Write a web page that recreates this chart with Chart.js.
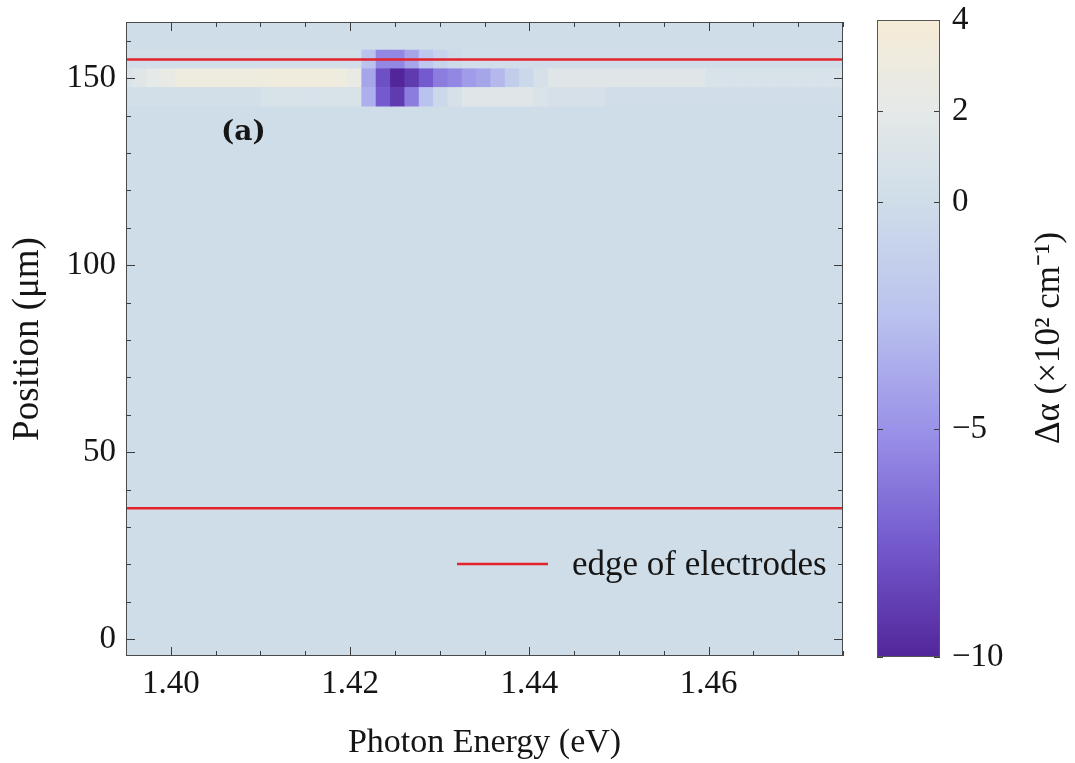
<!DOCTYPE html>
<html><head><meta charset="utf-8">
<script src="https://cdn.jsdelivr.net/npm/chart.js@4.4.0/dist/chart.umd.min.js"></script>
<style>
html,body{margin:0;padding:0;background:#fff;}
#wrap{position:relative;width:1075px;height:763px;overflow:hidden;}
canvas{position:absolute;left:0;top:0;}
</style></head><body>
<div id="wrap"><canvas id="main" width="1075" height="763"></canvas><canvas id="cbar" width="1075" height="763"></canvas></div>
<script>
// ---------------- data ----------------
// photon energy of each map column (eV)
const energies = [1.3949,1.3965,1.3981,1.3997,1.4013,1.4029,1.4045,1.4061,1.4077,1.4093,
  1.4109,1.4125,1.4141,1.4157,1.4173,1.4189,1.4205,1.4221,1.4237,1.4253,
  1.4269,1.4285,1.4301,1.4317,1.4333,1.4349,1.4365,1.4381,1.4397,1.4413,
  1.4429,1.4445,1.4461,1.4477,1.4493,1.4509,1.4525,1.4541,1.4557,1.4573,
  1.4589,1.4605,1.4621,1.4637,1.4653,1.4669,1.4685,1.4701,1.4717,1.4733,1.4749];
// rows that carry a signal (position, µm)
const rowPositions = [145, 150, 155];
const rowStep = 5;
// Δα (×10^2 cm^-1) per column for each row
const row145 = [0.3,0.3,0.3,0.3,0.3,0.3,0.3,0.3,0.3,0.3,
  0.8,0.8,0.8,0.8,0.8,0.8,0.8,-3.5,-7.5,-9.0,
  -6.0,-2.5,-0.5,0.5,1.5,1.5,1.5,1.5,1.5,1.0,
  0.5,0.5,0.5,0.5,0.2,0.2,0.2,0.2,0.2,0.2,
  0.2,0.2,0.2,0.2,0.2,0.2,0.2,0.2,0.2,0.2,0.2];
const row150 = [1.0,1.5,2.0,2.5,3.0,3.0,3.0,3.0,3.0,3.0,
  3.2,3.2,3.2,3.2,3.2,3.0,2.5,-4.0,-8.0,-10.0,
  -9.0,-7.5,-6.0,-5.5,-4.5,-4.0,-3.0,-1.5,-0.5,0.5,
  1.5,1.5,1.5,1.5,1.5,1.5,1.5,1.5,1.5,1.5,
  1.5,0.8,0.8,0.8,0.8,0.8,0.8,0.8,0.8,0.8,0.8];
const row155 = [0.3,0.3,0.3,0.3,0.3,0.3,0.3,0.3,0.3,0.3,
  0.3,0.3,0.3,0.3,0.3,0.3,0.3,-2.5,-5.5,-5.5,
  -4.0,-2.0,-1.0,-0.3,0.2,0.2,0.2,0.2,0.2,0.2,
  0.2,0.2,0.2,0.2,0.2,0.2,0.2,0.2,0.2,0.2,
  0.2,0.2,0.2,0.2,0.2,0.2,0.2,0.2,0.2,0.2,0.2];
const rowValues = [row145, row150, row155];
// remaining positions: Δα ≈ 0
const flatRange = [-7.5, 167.5];
const flatValue = 0;
// electrode edges (µm)
const electrodeEdges = [35, 155];
// axes
const xRange = [1.395, 1.475];
const yRange = [-4.5, 165];
const xTicks = [1.40, 1.42, 1.44, 1.46];
const yTicks = [0, 50, 100, 150];
const cbarRange = [-10, 4];
const cbarTicks = [-10, -5, 0, 2, 4];

// ---------------- colour map ----------------
const cmap = [
  [-10, [82, 38, 154]],
  [-7.5, [116, 90, 206]],
  [-5, [154, 146, 232]],
  [-2.5, [186, 194, 238]],
  [0, [207, 221, 233]],
  [2, [229, 233, 232]],
  [4, [246, 236, 214]]
];
function colorFor(v) {
  if (v <= cmap[0][0]) return rgb(cmap[0][1]);
  for (let i = 1; i < cmap.length; i++) {
    if (v <= cmap[i][0]) {
      const [v0, c0] = cmap[i-1], [v1, c1] = cmap[i];
      const t = (v - v0) / (v1 - v0);
      return rgb(c0.map((c, k) => c + (c1[k] - c) * t));
    }
  }
  return rgb(cmap[cmap.length-1][1]);
}
function rgb(c) { return 'rgb(' + c.map(Math.round).join(',') + ')'; }

const SERIF = "'Liberation Serif', 'Times New Roman', serif";
Chart.defaults.font.family = SERIF;
Chart.defaults.color = '#151515';

function cellSet(points, order) {
  return {
    type: 'bar', data: points, grouped: false, categoryPercentage: 1, barPercentage: 1,
    borderWidth: 0, clip: 0, order: order,
    backgroundColor: c => colorFor(c.raw ? c.raw.v : 0)
  };
}
const datasets = [];
electrodeEdges.forEach(p => datasets.push({
  type: 'line', label: 'edge of electrodes',
  data: [{x: xRange[0], y: p}, {x: xRange[1], y: p}],
  borderColor: '#e2232c', borderWidth: 2.5, pointRadius: 0, order: 0, clip: 0
}));
rowPositions.forEach((p, r) => {
  datasets.push(cellSet(energies.map((e, i) => ({x: e, y: [p - rowStep/2, p + rowStep/2], v: rowValues[r][i]})), 2));
});
datasets.push(cellSet(energies.map(e => ({x: e, y: flatRange, v: flatValue})), 5));

const frameTicks = {
  id: 'frameTicks',
  afterDatasetsDraw(chart) {
    const {ctx, chartArea: a, scales: {x, y}} = chart;
    ctx.save();
    ctx.strokeStyle = '#3c3c3c'; ctx.lineWidth = 1;
    const ln = (x1, y1, x2, y2) => { ctx.beginPath(); ctx.moveTo(x1, y1); ctx.lineTo(x2, y2); ctx.stroke(); };
    for (let k = Math.ceil(xRange[0] / 0.005 - 1e-6); k * 0.005 <= xRange[1] + 1e-9; k++) {
      const px = Math.round(x.getPixelForValue(k * 0.005)) + 0.5;
      const L = (k % 4 === 0) ? 9 : 5;
      ln(px, a.bottom, px, a.bottom - L);
      ln(px, a.top, px, a.top + L);
    }
    for (let v = 0; v <= yRange[1]; v += 10) {
      const py = Math.round(y.getPixelForValue(v)) + 0.5;
      const L = (v % 50 === 0) ? 9 : 5;
      ln(a.left, py, a.left + L, py);
      ln(a.right, py, a.right - L, py);
    }
    ctx.strokeStyle = '#4a4a4a';
    ctx.strokeRect(a.left + 0.5, a.top + 0.5, a.right - a.left - 1, a.bottom - a.top - 1);
    ctx.restore();
  },
  afterDraw(chart) {
    const {ctx} = chart;
    ctx.save();
    // legend
    const ls = chart.data.datasets[0];
    ctx.strokeStyle = ls.borderColor; ctx.lineWidth = 2.5;
    ctx.beginPath(); ctx.moveTo(457, 564); ctx.lineTo(548, 564); ctx.stroke();
    ctx.fillStyle = '#151515';
    ctx.font = '35px ' + SERIF;
    ctx.textBaseline = 'middle'; ctx.textAlign = 'left';
    ctx.fillText(ls.label, 572, 566);
    // panel label
    ctx.font = 'bold 28px "DejaVu Serif", serif';
    ctx.fillText('(a)', 221, 133);
    ctx.restore();
  }
};

new Chart(document.getElementById('main'), {
  type: 'bar',
  data: {datasets},
  options: {
    responsive: false, animation: false,
    layout: {padding: {left: 0, top: 22, right: 232, bottom: 0}},
    plugins: {legend: {display: false}, tooltip: {enabled: false}},
    scales: {
      x: {
        type: 'linear', min: xRange[0], max: xRange[1], offset: false,
        grid: {display: false}, border: {display: false},
        afterBuildTicks: s => { s.ticks = xTicks.map(v => ({value: v})); },
        afterFit: s => { s.height = 107; s.paddingLeft = 0; s.paddingRight = 0; },
        ticks: {callback: v => v.toFixed(2), font: {size: 33}, padding: 1, maxRotation: 0, autoSkip: false},
        title: {display: true, text: 'Photon Energy (eV)', font: {size: 34}, padding: {top: 0, bottom: 0}}
      },
      y: {
        type: 'linear', min: yRange[0], max: yRange[1],
        grid: {display: false}, border: {display: false},
        afterBuildTicks: s => { s.ticks = yTicks.map(v => ({value: v})); },
        afterFit: s => { s.width = 126; s.paddingTop = 0; s.paddingBottom = 0; },
        ticks: {font: {size: 33}, padding: 2},
        title: {display: true, text: 'Position (μm)', font: {size: 37}, padding: {top: 6, bottom: 0}}
      }
    }
  },
  plugins: [frameTicks]
});

// ---------------- colour bar ----------------
const cbarDeco = {
  id: 'cbarDeco',
  afterDatasetsDraw(chart) {
    const {ctx, chartArea: a, scales: {y}} = chart;
    ctx.save();
    ctx.strokeStyle = '#3c3c3c'; ctx.lineWidth = 1;
    cbarTicks.forEach(v => {
      const py = Math.round(y.getPixelForValue(v)) + 0.5;
      ctx.beginPath(); ctx.moveTo(a.left, py); ctx.lineTo(a.left + 6, py); ctx.stroke();
      ctx.beginPath(); ctx.moveTo(a.right, py); ctx.lineTo(a.right - 6, py); ctx.stroke();
    });
    ctx.strokeStyle = '#555';
    ctx.strokeRect(a.left + 0.5, a.top + 0.5, a.right - a.left - 1, a.bottom - a.top - 1);
    ctx.restore();
  },
  afterDraw(chart) {
    const {ctx} = chart;
    ctx.save();
    ctx.translate(1050, 338);
    ctx.rotate(-Math.PI / 2);
    ctx.fillStyle = '#151515';
    ctx.textAlign = 'center'; ctx.textBaseline = 'middle';
    ctx.font = '35px ' + SERIF;
    ctx.fillText('Δα (×10² cm⁻¹)', 0, 0);
    ctx.restore();
  }
};

new Chart(document.getElementById('cbar'), {
  type: 'bar',
  data: {labels: ['Δα'], datasets: [{
    data: [cbarRange], categoryPercentage: 1, barPercentage: 1, borderWidth: 0,
    backgroundColor: c => {
      const ch = c.chart, y = ch.scales.y;
      if (!ch.chartArea || !y) return colorFor(0);
      const y0 = y.getPixelForValue(cbarRange[0]), y1 = y.getPixelForValue(cbarRange[1]);
      const g = ch.ctx.createLinearGradient(0, y0, 0, y1);
      cmap.forEach(([v, col]) => g.addColorStop((v - cbarRange[0]) / (cbarRange[1] - cbarRange[0]), rgb(col)));
      return g;
    }
  }]},
  options: {
    responsive: false, animation: false,
    layout: {padding: {left: 877, top: 20, right: 0, bottom: 106}},
    plugins: {legend: {display: false}, tooltip: {enabled: false}},
    scales: {
      x: {display: false},
      y: {
        position: 'right', min: cbarRange[0], max: cbarRange[1],
        grid: {display: false}, border: {display: false},
        afterBuildTicks: s => { s.ticks = cbarTicks.map(v => ({value: v})); },
        afterFit: s => { s.width = 135; s.paddingTop = 0; s.paddingBottom = 0; },
        ticks: {font: {size: 33}, padding: 4, callback: v => v < 0 ? '\u2212' + Math.abs(v) : String(v)}
      }
    }
  },
  plugins: [cbarDeco]
});
</script>
</body></html>
